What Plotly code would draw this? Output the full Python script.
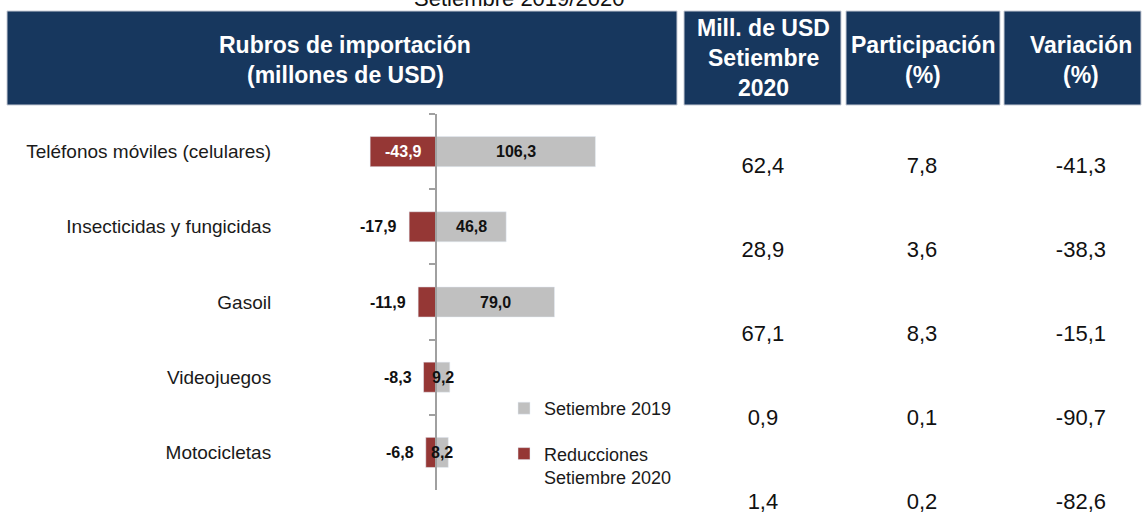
import plotly.graph_objects as go

# data
rubros = ['Teléfonos móviles (celulares)', 'Insecticidas y fungicidas', 'Gasoil',
          'Videojuegos', 'Motocicletas']
set_2019 = [106.3, 46.8, 79.0, 9.2, 8.2]
reducciones = [-43.9, -17.9, -11.9, -8.3, -6.8]

mill_usd_2020 = [62.4, 28.9, 67.1, 0.9, 1.4]
participacion = [7.8, 3.6, 8.3, 0.1, 0.2]
variacion = [-41.3, -38.3, -15.1, -90.7, -82.6]

headers = [['Rubros de importación', '(millones de USD)'],
           ['Mill. de USD', 'Setiembre', '2020'],
           ['Participación', '(%)'],
           ['Variación', '(%)']]
title = 'Setiembre 2019/2020'

W, H = 1142, 513
NAVY = '#17375e'
RED = '#953735'
GRAY = '#c0c0c0'
AXIS = '#a0a0a0'
FONT = 'Liberation Sans, Arial, sans-serif'


def fmt(v):
  return f'{v:.1f}'.replace('.', ',')


# pixel layout of the bar chart
px_left, px_right = 280, 700
x_range = [-104, 176]
px_per_unit = (px_right - px_left) / (x_range[1] - x_range[0])
zero_px = px_left + (0 - x_range[0]) * px_per_unit

fig = go.Figure()
fig.add_trace(go.Bar(
    y=rubros, x=set_2019, orientation='h', name='Setiembre 2019',
    marker_color=GRAY, legendgroup='a', hoverinfo='skip'))
fig.add_trace(go.Bar(
    y=rubros, x=reducciones, orientation='h', name='Reducciones<br>Setiembre 2020',
    marker_color=RED, legendgroup='b', hoverinfo='skip'))

annotations = []
# bar value labels
for cat, v in zip(rubros, set_2019):
  annotations.append(dict(x=v / 2, y=cat, xref='x', yref='y', text=fmt(v), showarrow=False,
                          font=dict(family=FONT, size=16, color='#111111', weight='bold')))
for cat, v in zip(rubros, reducciones):
  if abs(v) * px_per_unit > 50:
    annotations.append(dict(x=v / 2, y=cat, xref='x', yref='y', text=fmt(v), showarrow=False,
                            font=dict(family=FONT, size=16, color='white', weight='bold')))
  else:
    annotations.append(dict(x=v, y=cat, xref='x', yref='y', text=fmt(v), showarrow=False,
                            xanchor='right', xshift=-10,
                            font=dict(family=FONT, size=16, color='#111111', weight='bold')))

# right-hand table, on its own hidden axes
cols = [mill_usd_2020, participacion, variacion]
for j, col in enumerate(cols):
  fig.add_trace(go.Scatter(
      x=[j] * len(col), y=list(range(len(col))), mode='text',
      text=[fmt(v) for v in col], textfont=dict(family=FONT, size=22, color='#111111'),
      xaxis='x2', yaxis='y2', showlegend=False, hoverinfo='skip', cliponaxis=False))

# header boxes
boxes = [(7, 677), (684, 841), (846, 1000), (1004, 1141)]
centers = [345, 763, 923, 1081]
mids = [60, 58, 60, 60]
shapes = []
for (x0, x1), c, m, lines in zip(boxes, centers, mids, headers):
  shapes.append(dict(type='rect', xref='paper', yref='paper',
                     x0=x0 / W, x1=x1 / W, y0=1 - 105 / H, y1=1 - 11 / H,
                     fillcolor=NAVY, line=dict(color='#c8ccd6', width=1), layer='below'))
  n = len(lines)
  for k, t in enumerate(lines):
    ypx = m + (k - (n - 1) / 2) * 30
    annotations.append(dict(x=c / W, y=1 - ypx / H, xref='paper', yref='paper', text=t,
                            showarrow=False, xanchor='center', yanchor='middle',
                            font=dict(family=FONT, size=23, color='white', weight='bold')))

# title sits partly above the top edge, as in the source image
annotations.append(dict(x=519 / W, y=1 - 13 / H, xref='paper', yref='paper', text=title,
                        showarrow=False, xanchor='center', yanchor='bottom',
                        font=dict(family=FONT, size=22, color='#111111')))

fig.update_layout(
    width=W, height=H,
    margin=dict(l=0, r=0, t=0, b=0),
    paper_bgcolor='white', plot_bgcolor='rgba(0,0,0,0)',
    barmode='relative', bargap=0.6,
    font=dict(family=FONT, size=18, color='#1a1a1a'),
    xaxis=dict(domain=[px_left / W, px_right / W], range=x_range, showticklabels=False,
               showgrid=False, zeroline=False, fixedrange=True),
    yaxis=dict(domain=[1 - 490 / H, 1 - 114 / H], autorange='reversed',
               anchor='free', position=zero_px / W,
               showline=True, linecolor=AXIS, linewidth=2,
               ticks='outside', tickson='boundaries', ticklen=6, tickcolor=AXIS, tickwidth=2,
               showgrid=False, ticklabelstandoff=160,
               tickfont=dict(family=FONT, size=19, color='#1a1a1a')),
    xaxis2=dict(domain=[682 / W, 1], range=[-0.509, 2.384], visible=False, anchor='y2'),
    yaxis2=dict(domain=[0, 1], range=[4.119, -1.988], visible=False, anchor='x2'),
    legend=dict(x=504 / W, y=1 - 390 / H, xanchor='left', yanchor='top',
                traceorder='grouped', tracegroupgap=19, valign='top',
                bgcolor='rgba(0,0,0,0)',
                font=dict(family=FONT, size=18, color='#1a1a1a')),
    shapes=shapes,
    annotations=annotations,
)

# the page body keeps its default 8px margin otherwise
fig.write_html('out.html', config={'displayModeBar': False},
               post_script="document.body.style.margin='0';")
